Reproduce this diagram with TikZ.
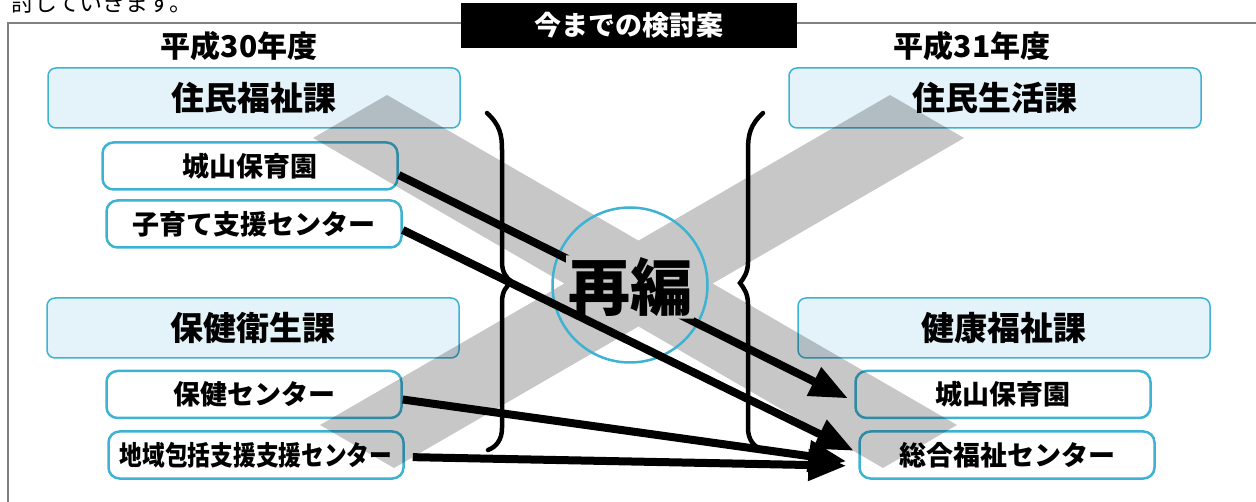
\documentclass[tikz,border=0pt]{standalone}
\usepackage{fontspec}
\setmainfont{Noto Sans CJK JP}
\usepackage{graphicx}
\usetikzlibrary{arrows.meta}
\definecolor{deptfill}{HTML}{E3F3F9}
\definecolor{linecyan}{HTML}{3DB2D3}
\tikzset{
	dept/.style={draw=linecyan, line width=1.5pt, fill=deptfill, rounded corners=8pt, minimum width=412pt, minimum height=60pt, font=\fontsize{33}{36}\selectfont\bfseries},
	unit/.style={draw=linecyan, line width=2.5pt, fill=white, rounded corners=11pt, minimum width=295pt, minimum height=47pt, font=\fontsize{27}{30}\selectfont\bfseries},
	year/.style={font=\fontsize{30}{32}\selectfont\bfseries},
	move/.style={line width=8pt, -{Triangle[length=38pt,width=30pt]}},
	brace/.style={line width=4.5pt, line cap=round},
}
\begin{document}
\begin{tikzpicture}[x=1pt,y=-1pt]
\useasboundingbox (0,0) rectangle (1256,502);
\draw[gray, line width=2.5pt] (8,520) -- (8,23) -- (1270,23);
\node[anchor=base west, font=\fontsize{23}{23}\selectfont] (lead) at (8,12){討していきます。};
\node[fill=black, text=white, minimum width=336pt, minimum height=45pt, font=\fontsize{27}{30}\selectfont\bfseries] (title) at (629,25.5){今までの検討案};
\node[year] (y30) at (239,46){平成30年度};
\node[year] (y31) at (972,46){平成31年度};
\node[dept] (fukushi) at (254,98){住民福祉課};
\node[dept] (seikatsu) at (995,98){住民生活課};
\node[dept] (eisei) at (253,328){保健衛生課};
\node[dept] (kenkou) at (1004,328){健康福祉課};
\node[unit] (jouyamaL) at (250,166){城山保育園};
\node[unit] (kosodate) at (254,224){子育て支援センター};
\node[unit] (hoken) at (254,394.5){保健センター};
\node[unit] (chiiki) at (256,455){\scalebox{0.84}[1]{地域包括支援支援センター}};
\node[unit] (jouyamaR) at (1003,394.5){城山保育園};
\node[unit] (sougou) at (1007,455){総合福祉センター};
\fill[black, opacity=0.22] (387,95) -- (957,425) -- (883,468) -- (313,138) -- cycle (320,425) -- (890,95) -- (964,138) -- (394,468) -- cycle;
\node[draw=linecyan, circle, line width=2.5pt, minimum size=155pt] (ring) at (630,285){};
\node[inner sep=2pt, font=\fontsize{62}{62}\selectfont\bfseries] (saihen) at (630,287){再編};
\begin{scope}[even odd rule]
\clip (0,0) rectangle (1256,502) (saihen.south west) rectangle (saihen.north east);
\draw[move, shorten >=7pt] ([yshift=-9pt]jouyamaL.east) -- ([yshift=-7pt]jouyamaR.west);
\end{scope}
\draw[move, shorten >=5pt] ([yshift=-6pt]kosodate.east) -- ([yshift=2pt]sougou.west);
\draw[move, shorten >=12pt] ([yshift=-5pt]hoken.east) -- ([yshift=-8pt]sougou.west);
\draw[move, shorten <=8pt, shorten >=12pt] ([yshift=-2pt]chiiki.east) -- ([yshift=-11pt]sougou.west);
\draw[brace] (487,113) .. controls (500,125) and (502,135) .. (502,150) -- (502,262) .. controls (502,272) and (506,278) .. (512,282) .. controls (506,286) and (502,292) .. (502,302) -- (502,428) .. controls (502,440) and (496,447) .. (488,450);
\draw[brace] (763,113) .. controls (750,125) and (748,135) .. (748,150) -- (748,262) .. controls (748,272) and (744,278) .. (740,283) .. controls (744,288) and (748,294) .. (748,304) -- (748,428) .. controls (748,440) and (754,447) .. (763,450);
\end{tikzpicture}
\end{document}
